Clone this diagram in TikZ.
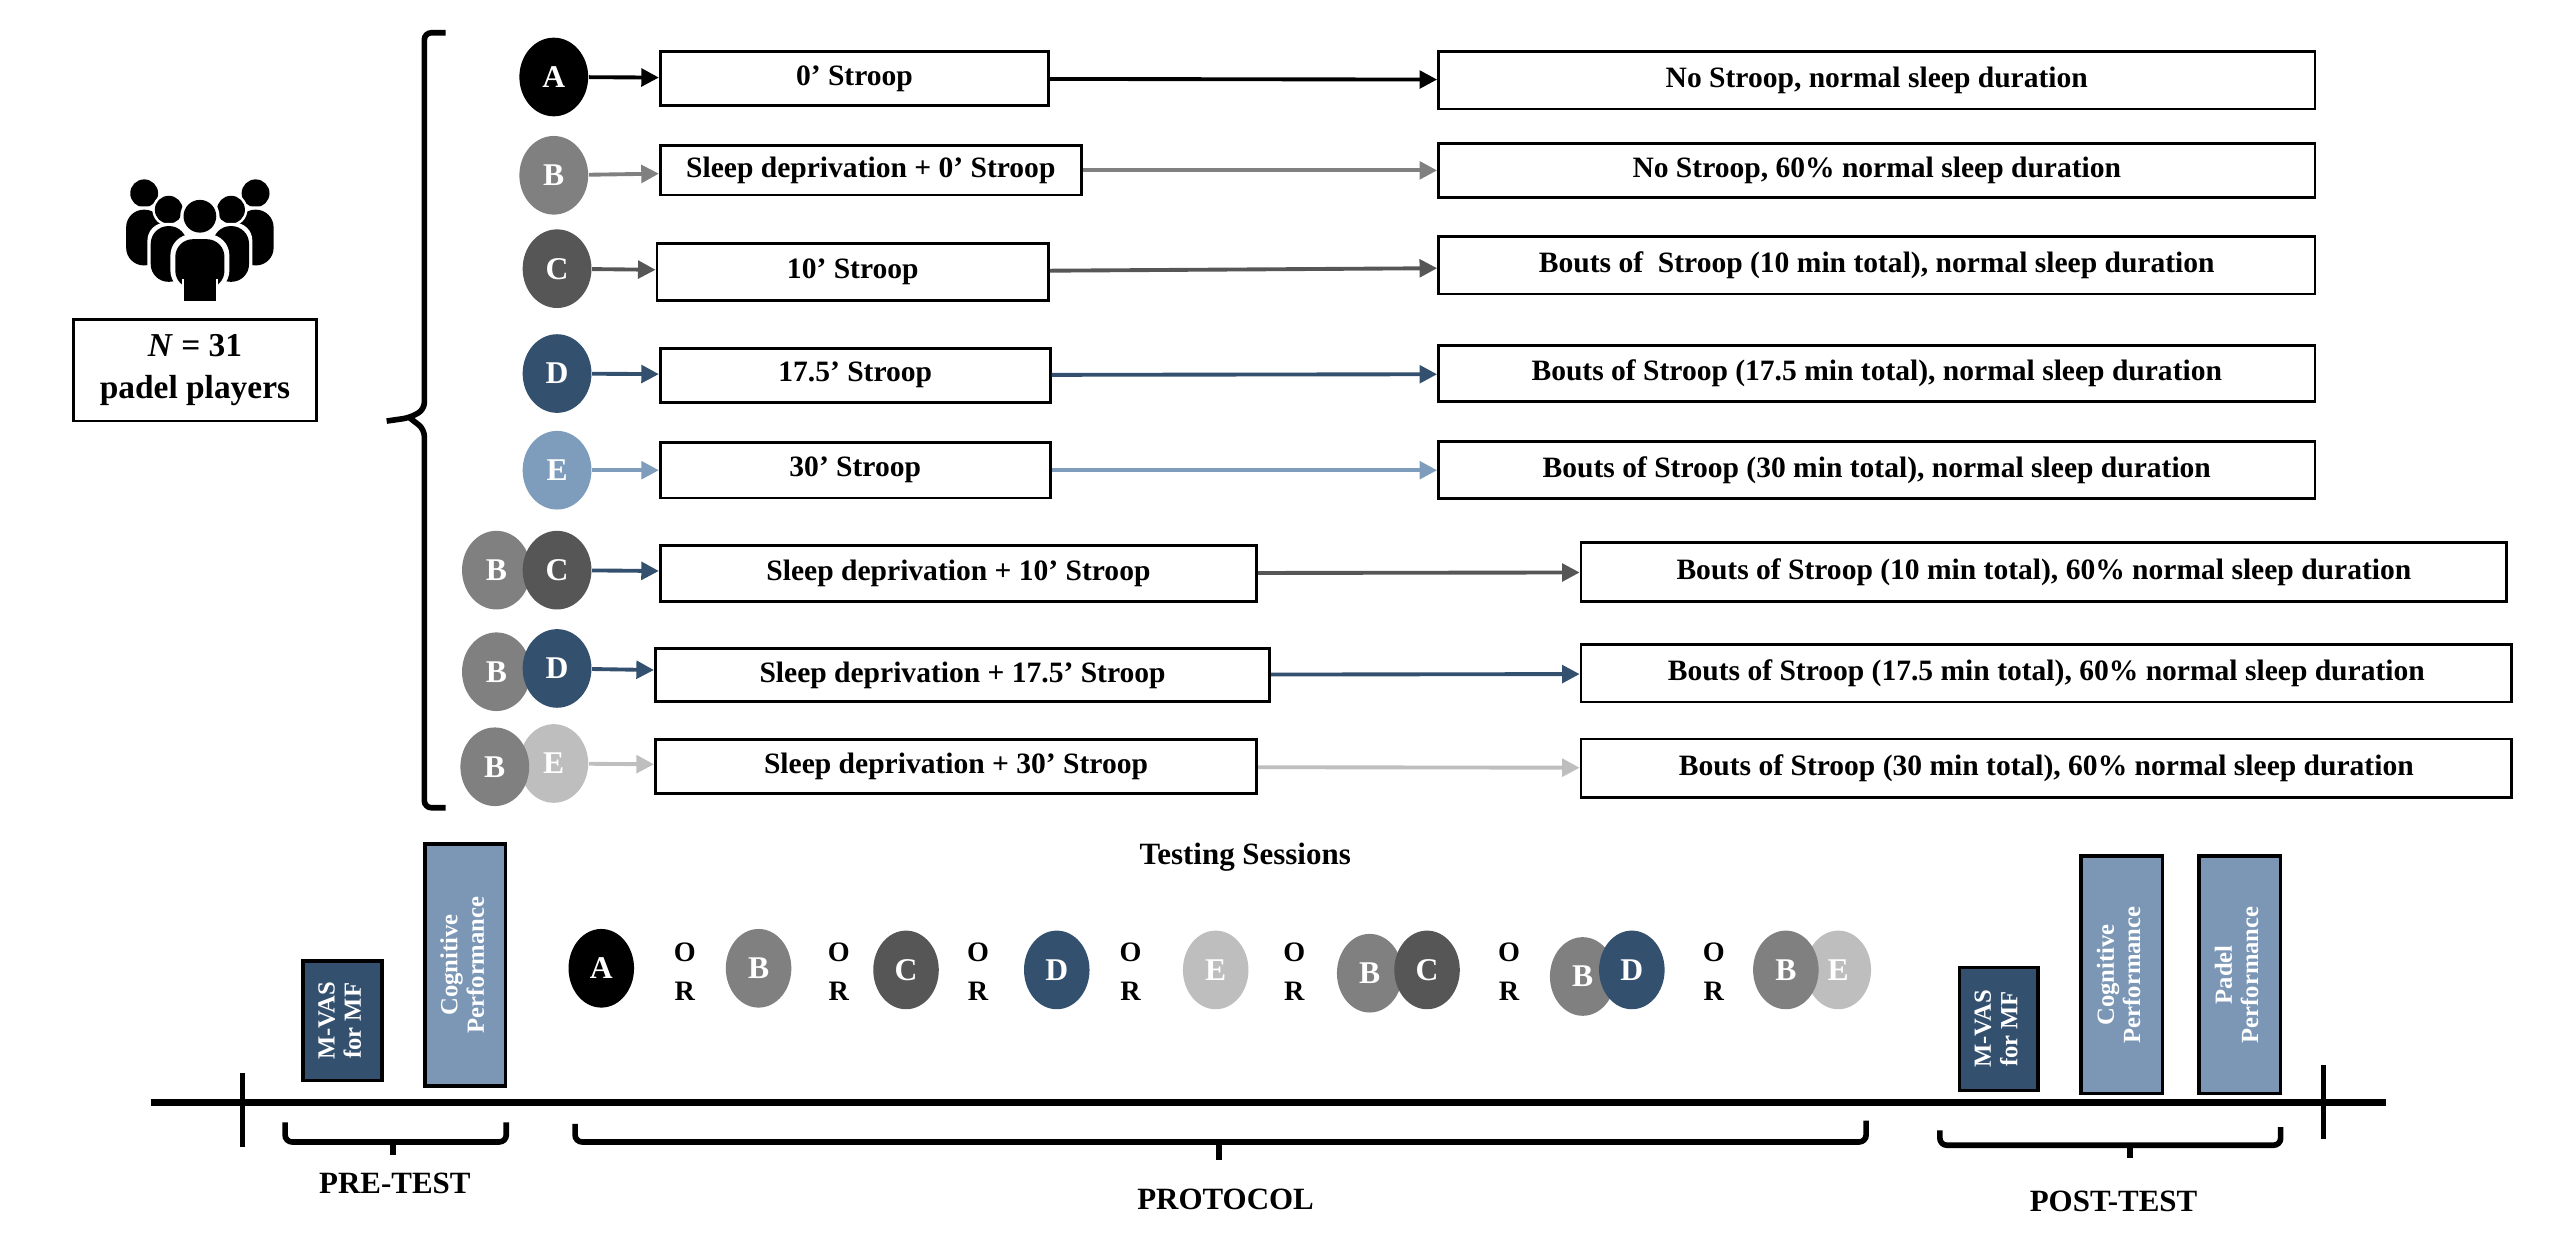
\documentclass[tikz,border=0pt]{standalone}
\usepackage{fontspec}
\setmainfont{Liberation Serif}
\usetikzlibrary{arrows.meta,shapes.geometric}
\definecolor{cA}{HTML}{000000}
\definecolor{cB}{HTML}{808080}
\definecolor{cC}{HTML}{565656}
\definecolor{cD}{HTML}{33506F}
\definecolor{cE}{HTML}{7E9DBD}
\definecolor{cEg}{HTML}{BEBEBE}
\definecolor{barL}{HTML}{7B97B5}
\newcommand\mybox[6]{\node[box,minimum width={(#3-#2)*0.01638cm},minimum height={#5*0.01638cm}] (#1) at ({(#2+#3)/2},#4) {#6};}
\tikzset{
 box/.style={draw,thick,fill=white,inner sep=0pt,font=\bfseries\fontsize{8.4}{10}\selectfont},
 circ/.style={ellipse,minimum width={42*0.01638cm},minimum height={48*0.01638cm},inner sep=0pt,text=white,font=\bfseries\fontsize{9}{10}\selectfont},
 arr/.style={line width=1.1pt,-{Triangle[length=5pt,width=5pt]}},
 bar/.style={draw=black,line width=1pt,inner sep=0pt,text=white,font=\bfseries\fontsize{7}{7.5}\selectfont,align=center},
 lbl/.style={font=\bfseries\fontsize{8.8}{10}\selectfont},
 orl/.style={font=\bfseries\fontsize{8}{8}\selectfont,align=center,inner sep=0pt},
 br/.style={line width=1.6pt,rounded corners=2pt}
}
\begin{document}
\begin{tikzpicture}[x=0.01638cm,y=-0.01638cm]
\useasboundingbox (0,0) rectangle (1568,763);
% people icon
\foreach \x/\y in {88/118,156/118,103/128,141/128}{
  \fill[white] (\x,\y) circle (10);
  \fill (\x,\y) circle (8.5);
  \fill[white,rounded corners=5pt] (\x-13,\y+8) rectangle (\x+13,\y+46);
  \fill[rounded corners=5pt] (\x-11,\y+10) rectangle (\x+11,\y+44);
}
\fill[white] (122,132) circle (12);
\fill (122,132) circle (10);
\fill[white,rounded corners=6pt] (104,143) rectangle (140,178);
\fill[rounded corners=5pt] (107,146) rectangle (137,176);
\fill[white] (111,170) rectangle (133,185);
\fill (112,168) rectangle (132,184);
\node[box,minimum width={148*0.01638cm},minimum height={62*0.01638cm},align=center,font=\bfseries\fontsize{9.5}{12}\selectfont] (N) at (119,226) {\textit{N} = 31\\padel players};
% brace
\draw[br] (272,20) -- (259,20) -- (259,250) -- (250,255) -- (236,257);
\draw[br] (250,255) -- (259,262) -- (259,493) -- (272,493);
% rows
\node[circ,fill=cA] (cA) at (338,47) {A};
\mybox{a1}{403}{640}{48}{33}{0’ Stroop}
\mybox{a2}{878}{1413}{49}{35}{No Stroop, normal sleep duration}
\draw[arr,cA] (cA) -- (a1); \draw[arr,cA] (a1) -- (a2);

\node[circ,fill=cB] (cB) at (338,107) {B};
\mybox{b1}{403}{660}{104}{30}{Sleep deprivation + 0’ Stroop}
\mybox{b2}{878}{1413}{104}{33}{No Stroop, 60\% normal sleep duration}
\draw[arr,cB] (cB) -- (b1); \draw[arr,cB] (b1) -- (b2);

\node[circ,fill=cC] (cC) at (340,164) {C};
\mybox{c1}{401}{640}{166}{35}{10’ Stroop}
\mybox{c2}{878}{1413}{162}{35}{Bouts of\ \ Stroop (10 min total), normal sleep duration}
\draw[arr,cC] (cC) -- (c1); \draw[arr,cC] (c1) -- (c2);

\node[circ,fill=cD] (cD) at (340,228) {D};
\mybox{d1}{403}{641}{229}{33}{17.5’ Stroop}
\mybox{d2}{878}{1413}{228}{34}{Bouts of Stroop (17.5 min total), normal sleep duration}
\draw[arr,cD] (cD) -- (d1); \draw[arr,cD] (d1) -- (d2);

\node[circ,fill=cE] (cE) at (340,287) {E};
\mybox{e1}{403}{641}{287}{34}{30’ Stroop}
\mybox{e2}{878}{1413}{287}{35}{Bouts of Stroop (30 min total), normal sleep duration}
\draw[arr,cE] (cE) -- (e1); \draw[arr,cE] (e1) -- (e2);

\node[circ,fill=cB] (fB) at (303,348) {B};
\node[circ,fill=cC] (fC) at (340,348) {C};
\mybox{f1}{403}{767}{350}{34}{Sleep deprivation + 10’ Stroop}
\mybox{f2}{965}{1530}{349}{36}{Bouts of Stroop (10 min total), 60\% normal sleep duration}
\draw[arr,cD] (fC) -- (f1); \draw[arr,cC] (f1) -- (f2);

\node[circ,fill=cB] (gB) at (303,410) {B};
\node[circ,fill=cD] (gD) at (340,408) {D};
\mybox{g1}{400}{775}{412}{32}{Sleep deprivation + 17.5’ Stroop}
\mybox{g2}{965}{1533}{411}{35}{Bouts of Stroop (17.5 min total), 60\% normal sleep duration}
\draw[arr,cD] (gD) -- (g1); \draw[arr,cD] (g1) -- (g2);

\node[circ,fill=cEg] (hE) at (338,466) {E};
\node[circ,fill=cB] (hB) at (302,468) {B};
\mybox{h1}{400}{767}{468}{33}{Sleep deprivation + 30’ Stroop}
\mybox{h2}{965}{1533}{469}{36}{Bouts of Stroop (30 min total), 60\% normal sleep duration}
\draw[arr,cEg] (hE) -- (h1); \draw[arr,cEg] (h1) -- (h2);

% testing sessions
\node[lbl] (ts) at (760,523) {Testing Sessions};
\tikzset{bc/.style={circ,minimum width={40*0.01638cm},minimum height={48*0.01638cm}}}
\node[bc,fill=cA] (sA) at (367,591) {A};
\node[bc,fill=cB] (sB) at (463,591) {B};
\node[bc,fill=cC] (sC) at (553,592) {C};
\node[bc,fill=cD] (sD) at (645,592) {D};
\node[bc,fill=cEg] (sE) at (742,592) {E};
\node[bc,fill=cB] (sB1) at (836,594) {B};
\node[bc,fill=cC] (sC1) at (871,592) {C};
\node[bc,fill=cB] (sB2) at (966,596) {B};
\node[bc,fill=cD] (sD2) at (996,592) {D};
\node[bc,fill=cEg] (sE3) at (1122,592) {E};
\node[bc,fill=cB] (sB3) at (1090,592) {B};
\foreach \x/\n in {418/1,512/2,597/3,690/4,790/5,921/6,1046/7}
  \node[orl] (or\n) at (\x,593) {O\\[3pt]R};
% bars
\node[bar,fill=cD,minimum width={48*0.01638cm},minimum height={73*0.01638cm}] (m1) at (209,623) {\rotatebox{90}{\begin{tabular}{@{}c@{}}M-VAS\\for MF\end{tabular}}};
\node[bar,fill=barL,minimum width={49*0.01638cm},minimum height={148*0.01638cm}] (cp1) at (284,589) {\rotatebox{90}{\begin{tabular}{@{}c@{}}Cognitive\\Performance\end{tabular}}};
\node[bar,fill=cD,minimum width={48*0.01638cm},minimum height={75*0.01638cm}] (m2) at (1220,628) {\rotatebox{90}{\begin{tabular}{@{}c@{}}M-VAS\\for MF\end{tabular}}};
\node[bar,fill=barL,minimum width={50*0.01638cm},minimum height={145*0.01638cm}] (cp2) at (1295,595) {\rotatebox{90}{\begin{tabular}{@{}c@{}}Cognitive\\Performance\end{tabular}}};
\node[bar,fill=barL,minimum width={50*0.01638cm},minimum height={145*0.01638cm}] (pp) at (1367,595) {\rotatebox{90}{\begin{tabular}{@{}c@{}}Padel\\Performance\end{tabular}}};
% timeline
\coordinate (t0) at (92,673); \coordinate (t1) at (1456,673);
\draw[line width=2pt] (t0) -- (t1);
\draw[line width=1.3pt] (148,655) -- (148,700);
\draw[line width=1.3pt] (1418,650) -- (1418,695);
% braces
\draw[br] (174,685) -- (174,697) -- (309,697) -- (309,685);
\draw[br] (240,697) -- (240,705);
\draw[br] (351,686) -- (351,697) -- (1139,697) -- (1139,684);
\draw[br] (744,697) -- (744,708);
\draw[br] (1184,690) -- (1184,699) -- (1392,699) -- (1392,688);
\draw[br] (1300,699) -- (1300,707);
\node[lbl] (pre) at (241,722) {PRE-TEST};
\node[lbl] (prot) at (748,732) {PROTOCOL};
\node[lbl] (post) at (1290,733) {POST-TEST};
\end{tikzpicture}
\end{document}
